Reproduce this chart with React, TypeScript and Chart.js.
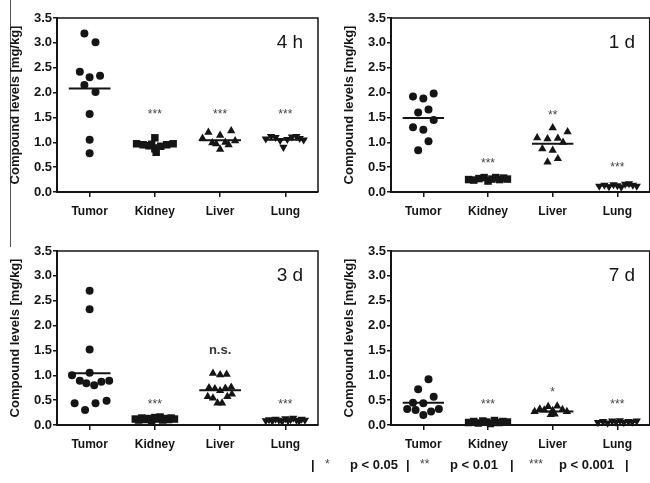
import React, { useEffect, useRef } from 'react';
import { Chart, registerables } from 'chart.js';

Chart.register(...registerables);

const FONT = "'Liberation Sans', Arial, Helvetica, sans-serif";
const INK = '#151515';

const categories = ['Tumor', 'Kidney', 'Liver', 'Lung'];
const yTickValues = [0, 0.5, 1, 1.5, 2, 2.5, 3, 3.5];
const yAxisTitle = 'Compound levels [mg/kg]';

// ---- 4 h ----
const tumor4h = [3.19, 3.01, 2.42, 2.31, 2.34, 2.15, 2.01, 1.57, 1.05, 0.78];
const tumor4hJitter = [-0.08, 0.09, -0.15, 0, 0.16, -0.08, 0.09, 0, 0, 0];
const kidney4h = [0.97, 0.95, 0.93, 1.09, 0.87, 0.8, 0.92, 0.95, 0.97, 0.96];
const kidney4hJitter = [-0.28, -0.18, -0.09, 0, 0, 0.02, 0.09, 0.18, 0.28, -0.05];
const liver4h = [1.08, 1.2, 1.14, 1.23, 0.99, 0.97, 1.0, 0.95, 1.03, 0.86];
const liver4hJitter = [-0.27, -0.18, 0, 0.17, -0.12, -0.06, 0.08, 0.13, 0.23, 0];
const lung4h = [1.07, 1.12, 1.1, 1.04, 0.9, 1.06, 1.11, 1.12, 1.08, 1.05];
const lung4hJitter = [-0.3, -0.22, -0.15, -0.08, -0.03, 0.03, 0.1, 0.17, 0.22, 0.28];
const means4h = [2.08, 0.94, 1.04, 1.05];
const stars4h = ['', '***', '***', '***'];
const starsY4h = [0, 1.6, 1.6, 1.6];

// ---- 1 d ----
const tumor1d = [1.92, 1.88, 1.98, 1.6, 1.66, 1.45, 1.3, 1.25, 1.02, 0.84];
const tumor1dJitter = [-0.16, 0, 0.16, -0.08, 0.08, 0.16, -0.16, 0, 0.08, -0.08];
const kidney1d = [0.25, 0.24, 0.27, 0.29, 0.22, 0.26, 0.29, 0.25, 0.28, 0.26];
const kidney1dJitter = [-0.3, -0.22, -0.14, -0.06, 0, 0.06, 0.12, 0.18, 0.24, 0.3];
const liver1d = [1.29, 1.21, 1.09, 1.07, 1.08, 1.0, 0.87, 0.84, 0.67, 0.6];
const liver1dJitter = [0, 0.23, -0.24, -0.08, 0.08, 0.16, -0.16, 0, 0.08, -0.08];
const lung1d = [0.12, 0.14, 0.11, 0.15, 0.13, 0.1, 0.16, 0.17, 0.14, 0.12];
const lung1dJitter = [-0.28, -0.2, -0.13, -0.06, 0, 0.06, 0.12, 0.18, 0.24, 0.3];
const means1d = [1.49, 0.26, 0.97, 0.13];
const stars1d = ['', '***', '**', '***'];
const starsY1d = [0, 0.62, 1.59, 0.54];

// ---- 3 d ----
const tumor3d = [2.7, 2.33, 1.52, 1.05, 1.0, 0.89, 0.84, 0.8, 0.87, 0.89, 0.44, 0.3, 0.44, 0.49];
const tumor3dJitter = [0, 0, 0, 0, -0.27, -0.15, -0.05, 0.07, 0.18, 0.3, -0.23, -0.07, 0.09, 0.26];
const kidney3d = [0.12, 0.1, 0.14, 0.11, 0.13, 0.09, 0.15, 0.12, 0.16, 0.1, 0.13, 0.11, 0.14, 0.12];
const kidney3dJitter = [-0.3, -0.25, -0.2, -0.15, -0.1, -0.05, 0, 0.04, 0.08, 0.12, 0.17, 0.21, 0.25, 0.3];
const liver3d = [1.04, 1.01, 1.02, 0.75, 0.73, 0.69, 0.74, 0.76, 0.57, 0.54, 0.44, 0.44, 0.57, 0.62];
const liver3dJitter = [-0.11, 0, 0.1, -0.17, -0.08, 0, 0.08, 0.17, -0.19, -0.11, -0.04, 0.03, 0.11, 0.18];
const lung3d = [0.09, 0.11, 0.08, 0.12, 0.1, 0.07, 0.13, 0.09, 0.11, 0.14, 0.1, 0.08, 0.12, 0.1];
const lung3dJitter = [-0.3, -0.25, -0.2, -0.15, -0.1, -0.05, 0, 0.04, 0.08, 0.12, 0.17, 0.21, 0.25, 0.3];
const means3d = [1.04, 0.12, 0.7, 0.1];
const stars3d = ['', '***', 'n.s.', '***'];
const starsY3d = [0, 0.45, 1.49, 0.45];

// ---- 7 d ----
const tumor7d = [0.92, 0.72, 0.57, 0.45, 0.44, 0.32, 0.3, 0.27, 0.32, 0.2];
const tumor7dJitter = [0.08, -0.08, 0.16, -0.16, 0, -0.25, -0.12, 0.12, 0.24, 0];
const kidney7d = [0.05, 0.07, 0.04, 0.08, 0.06, 0.03, 0.09, 0.05, 0.07, 0.06];
const kidney7dJitter = [-0.3, -0.22, -0.15, -0.08, -0.02, 0.04, 0.1, 0.17, 0.23, 0.3];
const liver7d = [0.27, 0.32, 0.3, 0.37, 0.21, 0.29, 0.22, 0.38, 0.31, 0.27];
const liver7dJitter = [-0.28, -0.2, -0.13, -0.07, -0.03, 0, 0.03, 0.07, 0.15, 0.22];
const lung7d = [0.05, 0.07, 0.04, 0.08, 0.06, 0.09, 0.05, 0.07, 0.06, 0.08];
const lung7dJitter = [-0.3, -0.22, -0.15, -0.08, -0.02, 0.04, 0.1, 0.17, 0.23, 0.3];
const means7d = [0.45, 0.06, 0.27, 0.06];
const stars7d = ['', '***', '*', '***'];
const starsY7d = [0, 0.45, 0.7, 0.45];

const panelTitles = ['4 h', '1 d', '3 d', '7 d'];

const markerStyles = [
  { style: 'circle', radius: 4, rotation: 0 },
  { style: 'rect', radius: 5.3, rotation: 0 },
  { style: 'triangle', radius: 4.8, rotation: 0 },
  { style: 'triangle', radius: 4.8, rotation: 180 },
];

type PanelSpec = {
  title: string;
  groups: number[][];
  jitter: number[][];
  means: number[];
  stars: string[];
  starsY: number[];
  left: number;
  top: number;
  width: number;
  axisLeft: number;
  padRight: number;
  titlePad: number;
};

const panels: PanelSpec[] = [
  {
    title: panelTitles[0],
    groups: [tumor4h, kidney4h, liver4h, lung4h],
    jitter: [tumor4hJitter, kidney4hJitter, liver4hJitter, lung4hJitter],
    means: means4h, stars: stars4h, starsY: starsY4h,
    left: 0, top: 0, width: 325, axisLeft: 57, padRight: 7, titlePad: 8,
  },
  {
    title: panelTitles[1],
    groups: [tumor1d, kidney1d, liver1d, lung1d],
    jitter: [tumor1dJitter, kidney1dJitter, liver1dJitter, lung1dJitter],
    means: means1d, stars: stars1d, starsY: starsY1d,
    left: 325, top: 0, width: 330, axisLeft: 66, padRight: 4, titlePad: 17,
  },
  {
    title: panelTitles[2],
    groups: [tumor3d, kidney3d, liver3d, lung3d],
    jitter: [tumor3dJitter, kidney3dJitter, liver3dJitter, lung3dJitter],
    means: means3d, stars: stars3d, starsY: starsY3d,
    left: 0, top: 233, width: 325, axisLeft: 57, padRight: 7, titlePad: 8,
  },
  {
    title: panelTitles[3],
    groups: [tumor7d, kidney7d, liver7d, lung7d],
    jitter: [tumor7dJitter, kidney7dJitter, liver7dJitter, lung7dJitter],
    means: means7d, stars: stars7d, starsY: starsY7d,
    left: 325, top: 233, width: 330, axisLeft: 66, padRight: 4, titlePad: 17,
  },
];

const PANEL_H = 225;
const TITLE_POS = { x: 3.07, y: 3.0 };
const MEAN_HALF = 0.32;

const decorPlugin = {
  id: 'panelDecor',
  afterDraw(chart: any, _args: any, opts: any) {
    const { ctx, chartArea: a, scales } = chart;
    ctx.save();
    ctx.strokeStyle = INK;
    ctx.lineWidth = 1.5;
    ctx.beginPath();
    ctx.moveTo(a.left, a.top);
    ctx.lineTo(a.right, a.top);
    ctx.lineTo(a.right, a.bottom);
    ctx.stroke();
    ctx.textAlign = 'center';
    ctx.textBaseline = 'middle';
    (opts.stars as string[]).forEach((s, i) => {
      if (!s) return;
      const x = scales.x.getPixelForValue(i);
      const y = scales.y.getPixelForValue(opts.starsY[i]);
      if (s === 'n.s.') {
        ctx.font = `bold 13px ${FONT}`;
        ctx.fillStyle = '#333';
        ctx.fillText(s, x, y - 1);
      } else {
        ctx.font = `12px ${FONT}`;
        ctx.fillStyle = '#444';
        ctx.fillText(s, x, y + 2.5);
      }
    });
    ctx.font = `19px ${FONT}`;
    ctx.fillStyle = INK;
    ctx.fillText(opts.title, scales.x.getPixelForValue(TITLE_POS.x), scales.y.getPixelForValue(TITLE_POS.y));
    ctx.restore();
  },
};

function Panel({ spec }: { spec: PanelSpec }) {
  const ref = useRef<HTMLCanvasElement | null>(null);
  useEffect(() => {
    if (!ref.current) return;
    const datasets: any[] = [];
    spec.groups.forEach((vals, i) => {
      const m = markerStyles[i];
      datasets.push({
        data: vals.map((v, k) => ({ x: i + spec.jitter[i][k], y: v })),
        pointStyle: m.style,
        pointRadius: m.radius,
        rotation: m.rotation,
        backgroundColor: INK,
        borderColor: INK,
        borderWidth: 0,
        clip: false,
        showLine: false,
      });
    });
    spec.means.forEach((mv, i) => {
      datasets.push({
        data: [
          { x: i - MEAN_HALF, y: mv },
          { x: i + MEAN_HALF, y: mv },
        ],
        showLine: true,
        borderColor: INK,
        borderWidth: 2,
        pointRadius: 0,
        clip: false,
      });
    });
    const chart = new Chart(ref.current, {
      type: 'scatter',
      data: { datasets },
      plugins: [decorPlugin as any],
      options: {
        animation: false,
        responsive: false,
        events: [],
        layout: { padding: { left: 0, top: 18, right: spec.padRight, bottom: 0 } },
        plugins: {
          legend: { display: false },
          tooltip: { enabled: false },
          panelDecor: { stars: spec.stars, starsY: spec.starsY, title: spec.title },
        } as any,
        scales: {
          x: {
            type: 'linear',
            min: -0.5,
            max: 3.5,
            afterBuildTicks: (s: any) => {
              s.ticks = categories.map((_, i) => ({ value: i }));
            },
            afterFit: (s: any) => {
              s.height = PANEL_H - 18 - 174;
            },
            grid: {
              display: true,
              drawOnChartArea: false,
              drawTicks: true,
              tickLength: 5,
              color: INK,
              lineWidth: 1.5,
            },
            border: { display: true, color: INK, width: 2 },
            ticks: {
              autoSkip: false,
              maxRotation: 0,
              padding: 7,
              color: INK,
              font: { family: FONT, size: 12, weight: 'bold' },
              callback: (v: any) => categories[Math.round(Number(v))] ?? '',
            },
          },
          y: {
            type: 'linear',
            min: 0,
            max: 3.5,
            afterBuildTicks: (s: any) => {
              s.ticks = yTickValues.map((v) => ({ value: v }));
            },
            afterFit: (s: any) => {
              s.width = spec.axisLeft;
            },
            grid: {
              display: true,
              drawOnChartArea: false,
              drawTicks: true,
              tickLength: 4,
              color: INK,
              lineWidth: 1.5,
            },
            border: { display: true, color: INK, width: 2 },
            ticks: {
              padding: 1,
              color: INK,
              font: { family: FONT, size: 13, weight: 'bold' },
              callback: (v: any) => Number(v).toFixed(1),
            },
            title: {
              display: true,
              text: yAxisTitle,
              color: INK,
              padding: { top: spec.titlePad, bottom: 0 },
              font: { family: FONT, size: 13, weight: 'bold' },
            },
          },
        },
      } as any,
    });
    return () => chart.destroy();
  }, [spec]);
  return (
    <canvas
      ref={ref}
      width={spec.width}
      height={PANEL_H}
      style={{ position: 'absolute', left: spec.left, top: spec.top, width: spec.width, height: PANEL_H }}
    />
  );
}

const legendItems: { text: string; x: number; star?: boolean }[] = [
  { text: '|', x: 311 },
  { text: '*', x: 325, star: true },
  { text: 'p < 0.05', x: 350 },
  { text: '|', x: 406 },
  { text: '**', x: 420, star: true },
  { text: 'p < 0.01', x: 450 },
  { text: '|', x: 510 },
  { text: '***', x: 529, star: true },
  { text: 'p < 0.001', x: 559 },
  { text: '|', x: 625 },
];

export default function App() {
  return (
    <div
      style={{
        position: 'fixed',
        left: 0,
        top: 0,
        width: 650,
        height: 483,
        overflow: 'hidden',
        background: '#fff',
        fontFamily: FONT,
      }}
    >
      <div style={{ position: 'absolute', left: 10, top: 0, width: 0, height: 247, borderLeft: '1px solid #555' }} />
      {panels.map((p) => (
        <Panel key={p.title} spec={p} />
      ))}
      {legendItems.map((it, i) => (
        <span
          key={i}
          style={{
            position: 'absolute',
            left: it.x,
            top: it.star ? 456 : 457,
            fontSize: it.star ? 12 : 13,
            fontWeight: it.star ? 'normal' : 'bold',
            color: it.star ? '#444' : INK,
            lineHeight: '16px',
            whiteSpace: 'pre',
          }}
        >
          {it.text}
        </span>
      ))}
    </div>
  );
}
